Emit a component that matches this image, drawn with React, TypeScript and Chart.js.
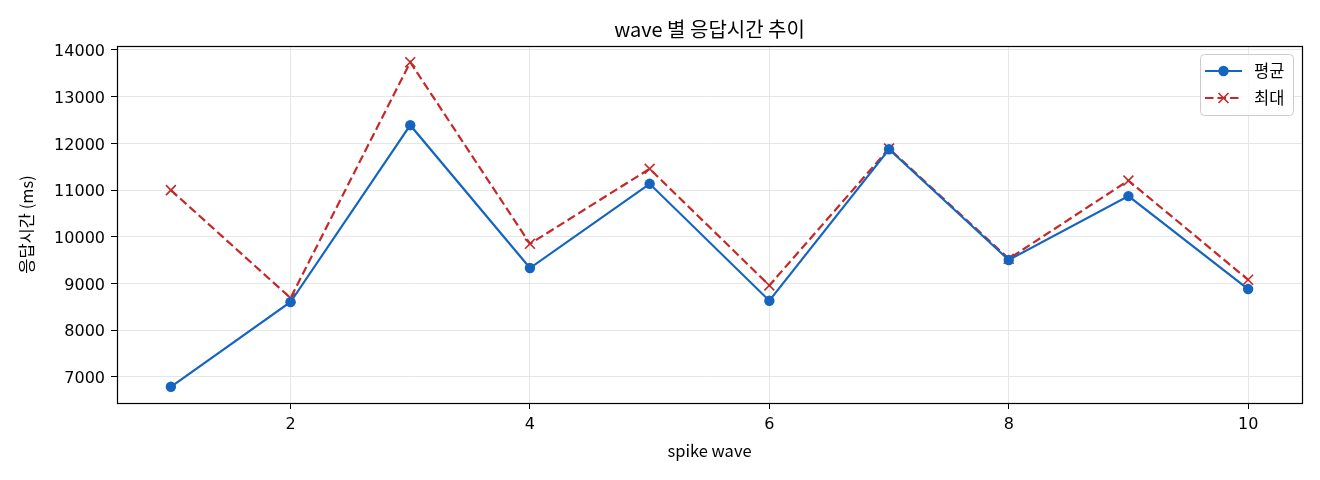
import React, { useEffect, useRef } from "react";
import { Chart, registerables } from "chart.js";

Chart.register(...registerables);

const waves = [1, 2, 3, 4, 5, 6, 7, 8, 9, 10];
const avgMs = [6790, 8605, 12390, 9332, 11135, 8632, 11875, 9505, 10872, 8882];
const maxMs = [11000, 8690, 13738, 9851, 11456, 8960, 11890, 9530, 11205, 9081];
const xTicks = [2, 4, 6, 8, 10];
const yTicks = [7000, 8000, 9000, 10000, 11000, 12000, 13000, 14000];
const seriesLabels = ["평균", "최대"];
const titleText = "wave 별 응답시간 추이";
const xTitle = "spike wave";
const yTitle = "응답시간 (ms)";

const FONT = "'Noto Sans CJK KR', 'Noto Sans', sans-serif";
const TICK_FONT = "'DejaVu Sans', 'Noto Sans CJK KR', sans-serif";
const BLUE = "#1565c0";
const RED = "#c62828";

export default function App() {
  const ref = useRef<HTMLCanvasElement | null>(null);

  useEffect(() => {
    document.body.style.margin = "0";
    const canvas = ref.current;
    if (!canvas) return;

    const allVals = [...avgMs, ...maxMs];
    const yMinD = Math.min(...allVals);
    const yMaxD = Math.max(...allVals);
    const yPad = (yMaxD - yMinD) * 0.05;
    const xMinD = Math.min(...waves);
    const xMaxD = Math.max(...waves);
    const xPad = (xMaxD - xMinD) * 0.05;

    const framePlugin = {
      id: "frame",
      afterDatasetsDraw(chart: any) {
        const { ctx, chartArea: a } = chart;
        ctx.save();
        ctx.strokeStyle = "#000";
        ctx.lineWidth = 1.2;
        ctx.strokeRect(Math.round(a.left) + 0.5, Math.round(a.top) + 0.5, Math.round(a.right - a.left), Math.round(a.bottom - a.top));
        ctx.restore();
      },
    };

    const titlePlugin = {
      id: "topTitle",
      afterDraw(chart: any) {
        const { ctx, chartArea: a } = chart;
        ctx.save();
        ctx.fillStyle = "#000";
        ctx.font = `20px ${FONT}`;
        ctx.textAlign = "center";
        ctx.textBaseline = "middle";
        ctx.fillText(titleText, (a.left + a.right) / 2, 29);
        ctx.restore();
      },
    };

    const legendPlugin = {
      id: "boxLegend",
      afterDraw(chart: any) {
        const { ctx, chartArea: a } = chart;
        const bx = a.right - 102;
        const by = a.top + 8;
        const bw = 93;
        const bh = 61;
        ctx.save();
        ctx.fillStyle = "rgba(255,255,255,0.8)";
        ctx.strokeStyle = "#cccccc";
        ctx.lineWidth = 1;
        ctx.beginPath();
        (ctx as any).roundRect(bx + 0.5, by + 0.5, bw, bh, 4);
        ctx.fill();
        ctx.stroke();
        chart.data.datasets.forEach((ds: any, i: number) => {
          const y = by + 17 + i * 27;
          const x0 = bx + 5;
          const x1 = bx + 42;
          ctx.strokeStyle = ds.borderColor;
          ctx.lineWidth = ds.borderWidth;
          ctx.setLineDash(ds.borderDash || []);
          ctx.beginPath();
          ctx.moveTo(x0, y);
          ctx.lineTo(x1, y);
          ctx.stroke();
          ctx.setLineDash([]);
          const cx = (x0 + x1) / 2;
          if (ds.pointStyle === "circle") {
            ctx.fillStyle = ds.pointBackgroundColor;
            ctx.beginPath();
            ctx.arc(cx, y, ds.pointRadius, 0, Math.PI * 2);
            ctx.fill();
          } else {
            const r = ds.pointRadius * Math.SQRT1_2;
            ctx.strokeStyle = ds.pointBorderColor;
            ctx.lineWidth = ds.pointBorderWidth;
            ctx.beginPath();
            ctx.moveTo(cx - r, y - r);
            ctx.lineTo(cx + r, y + r);
            ctx.moveTo(cx - r, y + r);
            ctx.lineTo(cx + r, y - r);
            ctx.stroke();
          }
          ctx.fillStyle = "#000";
          ctx.font = `16.5px ${FONT}`;
          ctx.textAlign = "left";
          ctx.textBaseline = "middle";
          ctx.fillText(ds.label, bx + 54, y);
        });
        ctx.restore();
      },
    };

    const chart = new Chart(canvas, {
      type: "line",
      data: {
        datasets: [
          {
            label: seriesLabels[0],
            data: waves.map((w, i) => ({ x: w, y: avgMs[i] })),
            borderColor: BLUE,
            backgroundColor: BLUE,
            borderWidth: 2.2,
            pointStyle: "circle",
            pointRadius: 5.2,
            pointBackgroundColor: BLUE,
            pointBorderColor: BLUE,
            pointBorderWidth: 0,
            tension: 0,
          },
          {
            label: seriesLabels[1],
            data: waves.map((w, i) => ({ x: w, y: maxMs[i] })),
            borderColor: RED,
            backgroundColor: RED,
            borderWidth: 2.2,
            borderDash: [8.5, 4],
            pointStyle: "crossRot",
            pointRadius: 7,
            pointBackgroundColor: RED,
            pointBorderColor: RED,
            pointBorderWidth: 1.6,
            tension: 0,
          },
        ],
      },
      options: {
        responsive: false,
        animation: false,
        devicePixelRatio: 1,
        layout: { padding: { top: 46, right: 18, left: 0, bottom: 0 } },
        plugins: {
          legend: { display: false },
          title: { display: false },
          tooltip: { enabled: false },
        },
        scales: {
          x: {
            type: "linear",
            min: xMinD - xPad,
            max: xMaxD + xPad,
            afterBuildTicks: (s: any) => {
              s.ticks = xTicks.map((v) => ({ value: v }));
            },
            afterFit: (s: any) => {
              s.height = 77;
            },
            ticks: {
              color: "#000",
              padding: 6,
              font: { family: TICK_FONT, size: 16 },
              callback: (v: any) => String(v),
            },
            grid: { color: "#e6e6e6", tickColor: "#000", tickLength: 6, lineWidth: 1 },
            border: { display: false },
            title: {
              display: true,
              text: xTitle,
              color: "#000",
              font: { family: FONT, size: 16.5 },
              padding: { top: 0, bottom: 19 },
            },
          },
          y: {
            type: "linear",
            min: yMinD - yPad,
            max: yMaxD + yPad,
            afterBuildTicks: (s: any) => {
              s.ticks = yTicks.map((v) => ({ value: v }));
            },
            afterFit: (s: any) => {
              s.width = 117;
            },
            ticks: {
              color: "#000",
              padding: 6,
              labelOffset: 2,
              font: { family: TICK_FONT, size: 16 },
              callback: (v: any) => String(v),
            },
            grid: { color: "#e6e6e6", tickColor: "#000", tickLength: 6, lineWidth: 1 },
            border: { display: false },
            title: {
              display: true,
              text: yTitle,
              color: "#000",
              font: { family: FONT, size: 16.5 },
              padding: { top: 17, bottom: 0 },
            },
          },
        },
      },
      plugins: [framePlugin, titlePlugin, legendPlugin],
    } as any);

    return () => chart.destroy();
  }, []);

  return (
    <div style={{ position: "absolute", left: 0, top: 0, width: 1320, height: 480, background: "#fff" }}>
      <canvas ref={ref} width={1320} height={480} style={{ width: 1320, height: 480, display: "block" }} />
    </div>
  );
}
